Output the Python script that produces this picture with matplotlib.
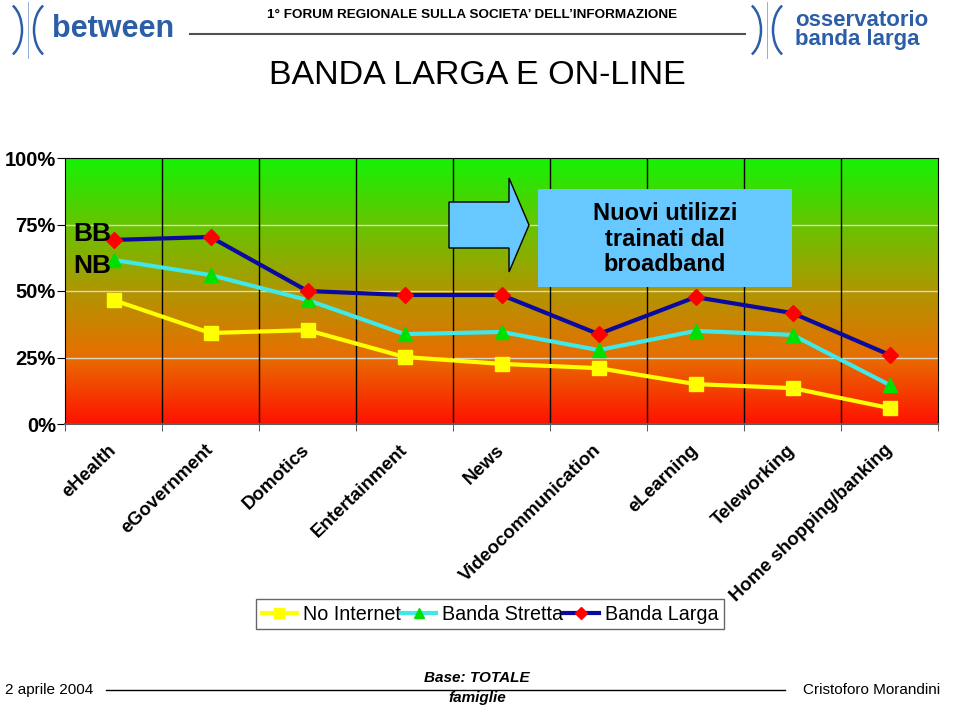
import matplotlib
matplotlib.use("Agg")
import matplotlib.pyplot as plt
import numpy as np
from matplotlib.colors import LinearSegmentedColormap
from matplotlib.patches import Polygon, Rectangle, Arc
from matplotlib.lines import Line2D

plt.rcParams["font.family"] = ["Liberation Sans", "DejaVu Sans"]
NARROW = ["Liberation Sans Narrow", "Liberation Sans", "DejaVu Sans"]

# data (% of households using each service)
categories = ["eHealth", "eGovernment", "Domotics", "Entertainment", "News",
              "Videocommunication", "eLearning", "Teleworking", "Home shopping/banking"]
no_internet = [46.6, 34.2, 35.3, 25.2, 22.6, 21.0, 15.0, 13.5, 6.0]
banda_stretta = [61.7, 56.0, 46.6, 33.8, 34.6, 27.8, 35.0, 33.5, 14.7]
banda_larga = [69.2, 70.3, 50.0, 48.5, 48.5, 33.8, 47.7, 41.7, 26.0]
yticks = [0, 25, 50, 75, 100]

W, H = 960, 708
fig = plt.figure(figsize=(W / 100, H / 100), dpi=100)


def fx(px):
    return px / W


def fy(py):
    return 1 - py / H


# ---- header ----
fig.text(fx(472), fy(15), "1° FORUM REGIONALE SULLA SOCIETA’ DELL’INFORMAZIONE",
         ha="center", va="center", fontsize=9.7, fontweight="bold", family=NARROW)
fig.add_artist(Line2D([fx(190), fx(745)], [fy(34), fy(34)], color="#505050", lw=1.5))
blue = "#2c5ea8"
for cx in (fx(28), fx(767)):
    fig.add_artist(Line2D([cx, cx], [fy(2), fy(58)], color=blue, lw=0.6, alpha=0.6))
    fig.add_artist(Arc((cx - fx(24), fy(30)), fx(36), fy(0) - fy(56), theta1=-75, theta2=75,
                       color=blue, lw=1.8, transform=fig.transFigure))
    fig.add_artist(Arc((cx + fx(24), fy(30)), fx(36), fy(0) - fy(56), theta1=105, theta2=255,
                       color=blue, lw=1.8, transform=fig.transFigure))
fig.text(fx(52), fy(29), "between", ha="left", va="center", fontsize=22,
         fontweight="bold", color=blue)
fig.text(fx(795), fy(20), "osservatorio", ha="left", va="center", fontsize=16,
         fontweight="bold", color=blue)
fig.text(fx(795), fy(39), "banda larga", ha="left", va="center", fontsize=16,
         fontweight="bold", color=blue)

fig.text(fx(477), fy(75), "BANDA LARGA E ON-LINE", ha="center", va="center", fontsize=24.5)

# ---- chart ----
ax = fig.add_axes([fx(65), fy(424), fx(938) - fx(65), fy(158) - fy(424)])
n = len(categories)
xs = np.arange(n) + 0.5

grad = LinearSegmentedColormap.from_list("rg", [
    (0.00, (1.00, 0.07, 0.00)),
    (0.25, (0.91, 0.43, 0.00)),
    (0.50, (0.69, 0.59, 0.00)),
    (0.75, (0.40, 0.77, 0.00)),
    (1.00, (0.08, 0.95, 0.02)),
])
ax.imshow(np.linspace(0, 1, 256).reshape(-1, 1), cmap=grad, origin="lower",
          extent=[0, n, 0, 100], aspect="auto", zorder=0)
ax.set_xlim(0, n)
ax.set_ylim(0, 100)

for y in yticks[1:-1]:
    ax.axhline(y, color="#d8d8c8", lw=1, zorder=1)
for b in range(1, n):
    ax.axvline(b, color="black", lw=1, zorder=1)

ax.plot(xs, no_internet, color="#ffff00", lw=3, marker="s", ms=9.5,
        mfc="#ffff00", mec="#ffff00", zorder=3, label="No Internet")
ax.plot(xs, banda_stretta, color="#40e8e8", lw=3, marker="^", ms=10,
        mfc="#00e000", mec="#00e000", zorder=3, label="Banda Stretta")
ax.plot(xs, banda_larga, color="#0a0aa0", lw=3, marker="D", ms=8.5,
        mfc="#ff0000", mec="#ff0000", zorder=4, label="Banda Larga")

ax.set_yticks(yticks)
ax.set_yticklabels([f"{v}%" for v in yticks], fontsize=14.5, fontweight="bold")
ax.set_xticks(np.arange(n + 1), minor=True)
ax.set_xticks(xs)
ax.set_xticklabels(categories, rotation=44, ha="right", va="center",
                   rotation_mode="anchor", fontsize=13.5, fontweight="bold")
ax.tick_params(axis="x", which="major", length=0, pad=17)
ax.tick_params(axis="x", which="minor", length=5, color="#404040")
ax.tick_params(axis="y", length=6, pad=0.5)
for s in ("top", "right", "left"):
    ax.spines[s].set_color("black")
ax.spines["bottom"].set_color("#606060")
ax.spines["bottom"].set_linewidth(1.5)

ax.text(0.09, 71.5, "BB", fontsize=19, fontweight="bold", va="center", ha="left", zorder=5)
ax.text(0.09, 59.5, "NB", fontsize=19, fontweight="bold", va="center", ha="left", zorder=5)

# arrow + callout box (figure pixels)
arrow = Polygon([(fx(449), fy(202)), (fx(509), fy(202)), (fx(509), fy(178)),
                 (fx(529), fy(225)), (fx(509), fy(272)), (fx(509), fy(248)),
                 (fx(449), fy(248))], closed=True, fc="#66c8ff", ec="black", lw=1,
                transform=fig.transFigure, zorder=6)
fig.add_artist(arrow)
fig.add_artist(Rectangle((fx(538), fy(287)), fx(792) - fx(538), fy(189) - fy(287),
                         fc="#66c8ff", ec="none", transform=fig.transFigure, zorder=6))
fig.text(fx(665), fy(239), "Nuovi utilizzi\ntrainati dal\nbroadband", ha="center",
         va="center", fontsize=17, fontweight="bold", linespacing=1.15, zorder=7)

leg = fig.legend(loc="center", bbox_to_anchor=(fx(490), fy(614)), ncol=3, fontsize=14.2,
                 frameon=True, fancybox=False, handlelength=1.8, handletextpad=0.3,
                 columnspacing=0.0, borderpad=0.3, borderaxespad=0, markerscale=0.7)
leg.get_frame().set_edgecolor("#404040")
leg.get_frame().set_linewidth(1)

# ---- footer ----
fig.text(fx(5), fy(690), "2 aprile 2004", ha="left", va="center", fontsize=11, family=NARROW)
fig.text(fx(940), fy(690), "Cristoforo Morandini", ha="right", va="center", fontsize=11,
         family=NARROW)
fig.add_artist(Line2D([fx(106), fx(785)], [fy(690), fy(690)], color="black", lw=1))
fig.add_artist(Rectangle((fx(415), fy(706)), fx(125), fy(668) - fy(706), fc="white",
                         ec="none", transform=fig.transFigure))
fig.text(fx(477), fy(678), "Base: TOTALE", ha="center", va="center", fontsize=11,
         fontweight="bold", style="italic", family=NARROW)
fig.text(fx(477), fy(698), "famiglie", ha="center", va="center", fontsize=11,
         fontweight="bold", style="italic", family=NARROW)

fig.savefig("out.png", dpi=100)
